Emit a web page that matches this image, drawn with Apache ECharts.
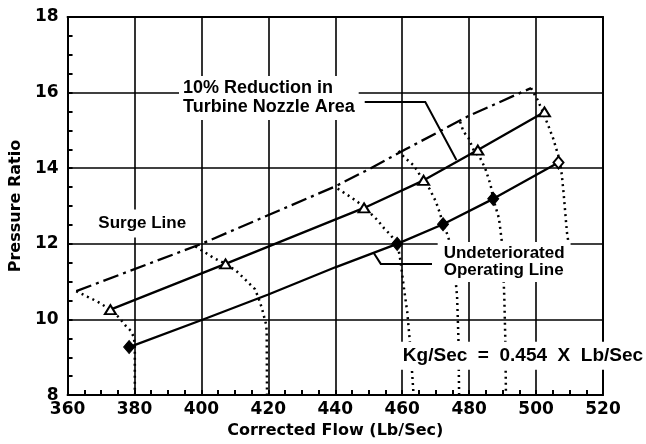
<!DOCTYPE html>
<html>
<head>
<meta charset="utf-8">
<script src="https://cdn.jsdelivr.net/npm/echarts@6/dist/echarts.min.js"></script>
<style>
html,body{margin:0;padding:0;background:#fff;}
#c{width:646px;height:444px;}
</style>
</head>
<body>
<div id="c"></div>
<script>
// ---- axes ----
var xMin = 360, xMax = 520, xStep = 20;
var yMin = 8, yMax = 18, yStep = 2;
var xTitle = 'Corrected Flow (Lb/Sec)';
var yTitle = 'Pressure Ratio';

// ---- undeteriorated operating line (solid) ----
var lowerLine = [[378.4,9.27],[400.5,10.0],[420,10.66],[440,11.38],[458.5,12.0],[472.2,12.52],[487.2,13.19],[506.7,14.15]];
var lowerFilledMarks = [[378.4,9.27],[458.5,12.0],[472.2,12.52],[487.2,13.19]];
var lowerOpenMarks = [[506.7,14.15]];

// ---- 10% reduction in turbine nozzle area line (solid, triangles) ----
var midLine = [[372.8,10.26],[407.2,11.47],[448.6,12.95],[466.4,13.68],[482.6,14.48],[502.5,15.49]];

// ---- surge line (dash-dot) ----
var surgeLine = [[362.6,10.75],[400,12.0],[440,13.52],[450.6,14.0],[461,14.5],[480,15.39],[498.5,16.12]];

// ---- constant speed lines (dotted) ----
var speed1 = [[362.6,10.75],[366,10.6],[369,10.47],[372.8,10.26],[375.4,10.05],[377.4,9.83],[378.9,9.7],[379.7,9.55],[380.1,9.35],[380.1,8]];
var speed2 = [[398.2,11.93],[400.6,11.8],[403.6,11.63],[407.2,11.47],[410.5,11.28],[413.5,11.02],[416,10.8],[417,10.58],[418,10.32],[418.8,10.05],[419.3,9.88],[419.5,9.7],[419.6,8]];
var speed3 = [[440.7,13.46],[443.7,13.29],[446.7,13.11],[448.6,12.95],[450.6,12.8],[452.6,12.63],[454.6,12.41],[456.5,12.24],[458,12.06],[458.5,12.0],[459,11.8],[459.5,11.54],[460,11.19],[460.5,10.84],[461.5,10.2],[462.5,9.2],[463.4,8]];
var speed4 = [[458.9,14.46],[460.5,14.3],[463.5,14.07],[466.3,13.68],[468.2,13.45],[470.1,13.11],[471.3,12.8],[472.2,12.52],[473.5,12.25],[474.5,11.95],[475.7,11.3],[476.4,10.6],[476.8,9.5],[477,8]];
var speed5 = [[477.3,15.23],[478.3,14.97],[479.8,14.8],[481.3,14.49],[483.3,14.27],[484.8,14.0],[486.4,13.56],[487.2,13.19],[488.9,12.68],[489.4,12.33],[489.9,11.97],[490.5,10.6],[490.8,9.5],[491,8]];
var speed6 = [[498.5,16.12],[500.5,15.8],[502,15.49],[503.6,15.14],[505.1,14.79],[506.6,14.35],[507.2,14.17],[507.7,13.81],[508.2,13.37],[508.7,12.85],[509.2,12.32],[509.7,12.02]];

// ---- annotations (data coordinates) ----
var noteReduction = {text:'10% Reduction in\nTurbine Nozzle Area', at:[393.3,15.86]};
var noteSurge = {text:'Surge Line', at:[367.4,12.54]};
var noteUndet = {text:'Undeteriorated\nOperating Line', at:[470.6,11.52]};
var noteConv = {text:'Kg/Sec  =  0.454  X  Lb/Sec', at:[459.0,9.04]};
var leaderReduction = [[448.8,15.75],[466.9,15.75],[476.2,14.22]];
var leaderUndet = [[468.9,11.47],[453.6,11.47],[451.5,11.76]];

var chart = echarts.init(document.getElementById('c'), null, {renderer:'canvas'});
var black = '#000';
var tickFont = {fontFamily:'DejaVu Sans', fontWeight:'bold', fontSize:17, color:black};
var titleFont = {fontFamily:'DejaVu Sans', fontWeight:'bold', fontSize:16, color:black};
var noteFontFamily = 'Liberation Sans';

function dotted(data){
  return {type:'line', data:data, symbol:'none', z:3, silent:true,
    lineStyle:{color:black, width:2.5, type:[2,4], cap:'butt', opacity:1}};
}
function note(n, size, lh, pad){
  return {type:'scatter', z:10, silent:true, symbolSize:0,
    itemStyle:{opacity:1},
    data:[{value:n.at}],
    label:{show:true, position:'right', distance:0, formatter:n.text,
      fontFamily:noteFontFamily, fontWeight:'bold', fontSize:size, lineHeight:lh,
      color:black, opacity:1, backgroundColor:'#fff', padding:pad, align:'left'}};
}

var option = {
  animation:false,
  backgroundColor:'#fff',
  grid:{left:65, right:43, top:17, bottom:46},
  xAxis:[{
    type:'value', min:xMin, max:xMax, interval:xStep,
    name:xTitle, nameLocation:'middle', nameGap:27, nameTextStyle:titleFont,
    axisLine:{show:true, onZero:false, lineStyle:{color:black, width:2}},
    axisTick:{show:true, inside:true, length:5, lineStyle:{color:black, width:2}},
    minorTick:{show:true, splitNumber:4, length:5, lineStyle:{color:black, width:2}},
    axisLabel:Object.assign({margin:6}, tickFont),
    splitLine:{show:true, lineStyle:{color:black, width:1.6}}
  },{
    type:'value', min:xMin, max:xMax, position:'top',
    axisLine:{show:true, lineStyle:{color:black, width:2}},
    axisTick:{show:false}, axisLabel:{show:false}, splitLine:{show:false}
  }],
  yAxis:[{
    type:'value', min:yMin, max:yMax, interval:yStep,
    name:yTitle, nameLocation:'middle', nameGap:41, nameTextStyle:titleFont,
    axisLine:{show:true, onZero:false, lineStyle:{color:black, width:2}},
    axisTick:{show:true, inside:true, length:5, lineStyle:{color:black, width:2}},
    minorTick:{show:true, splitNumber:4, length:5, lineStyle:{color:black, width:2}},
    axisLabel:Object.assign({margin:9}, tickFont),
    splitLine:{show:true, lineStyle:{color:black, width:1.6}}
  },{
    type:'value', min:yMin, max:yMax, position:'right',
    axisLine:{show:true, lineStyle:{color:black, width:2}},
    axisTick:{show:false}, axisLabel:{show:false}, splitLine:{show:false}
  }],
  series:[
    {type:'line', data:lowerLine, symbol:'none', z:4, silent:true, lineStyle:{color:black, width:2.3}},
    {type:'line', data:midLine, symbol:'none', z:4, silent:true, lineStyle:{color:black, width:2.3}},
    {type:'line', data:surgeLine, symbol:'none', z:4, silent:true, lineStyle:{color:black, width:2.3, type:[16,5,3,5]}},
    dotted(speed1), dotted(speed2), dotted(speed3), dotted(speed4), dotted(speed5), dotted(speed6),
    {type:'scatter', data:lowerFilledMarks, symbol:'diamond', symbolSize:[11,13], z:6, silent:true,
      itemStyle:{color:black, borderColor:black, borderWidth:1, opacity:1}},
    {type:'scatter', data:lowerOpenMarks, symbol:'diamond', symbolSize:[10,12], z:6, silent:true,
      itemStyle:{color:'#fff', borderColor:black, borderWidth:2, opacity:1}},
    {type:'scatter', data:midLine, symbol:'triangle', symbolSize:[11,9], z:6, silent:true,
      itemStyle:{color:'#fff', borderColor:black, borderWidth:2, opacity:1}},
    note(noteReduction, 18, 19, [3,4]),
    note(noteSurge, 17, 18, [5,6]),
    note(noteUndet, 17, 17, [3,6]),
    note(noteConv, 19, 20, [4,4]),
    {type:'lines', coordinateSystem:'cartesian2d', polyline:true, z:12, silent:true,
      symbol:['none','arrow'], symbolSize:9,
      lineStyle:{color:black, width:2, opacity:1},
      data:[{coords:leaderReduction},{coords:leaderUndet}]}
  ]
};
chart.setOption(option);
</script>
</body>
</html>
